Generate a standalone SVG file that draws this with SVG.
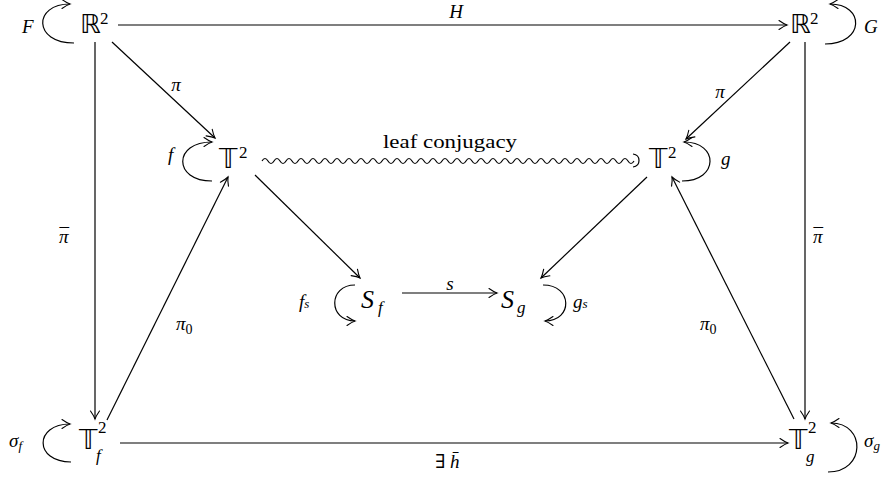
<svg xmlns="http://www.w3.org/2000/svg" width="888" height="481" viewBox="0 0 888 481">
<defs>
<marker id="ah" viewBox="-9 -6 11 12" markerWidth="11" markerHeight="12" refX="0" refY="0" orient="auto" markerUnits="userSpaceOnUse">
<path d="M-8,-4.5 Q-3,-1 0,0 Q-3,1 -8,4.5" fill="none" stroke="#000" stroke-width="1.1" stroke-linecap="round"/>
</marker>
</defs>
<style>
.e{fill:none;stroke:#000;stroke-width:1.2;marker-end:url(#ah)}
.w{fill:none;stroke:#000;stroke-width:1.2}
.bb{font-family:"DejaVu Sans","Noto Sans",sans-serif;font-size:26px;fill:#000}
.sup{font-family:"Liberation Serif","DejaVu Serif",serif;font-style:normal;font-size:17px;fill:#000}
.m{font-family:"Liberation Serif","DejaVu Serif",serif;font-style:italic;font-size:19px;fill:#000}
.big{font-family:"Liberation Serif","DejaVu Serif",serif;font-style:italic;font-size:26px;fill:#000}
.sub{font-family:"Liberation Serif","DejaVu Serif",serif;font-style:italic;font-size:17px;fill:#000}
.ss{font-family:"Liberation Serif","DejaVu Serif",serif;font-style:italic;font-size:13px;fill:#000}
.z{font-family:"Liberation Serif","DejaVu Serif",serif;font-style:normal;font-size:14px;fill:#000}
.t{font-family:"Liberation Serif","DejaVu Serif",serif;font-size:19px;fill:#000}
.up{font-family:"Liberation Serif","DejaVu Serif",serif;font-style:normal;font-size:19px;fill:#000}
</style>
<g id="R2L"><text class="bb" x="80" y="33">ℝ</text><text class="sup" x="100" y="24">2</text></g>
<g id="R2R"><text class="bb" x="790" y="33">ℝ</text><text class="sup" x="810" y="24">2</text></g>
<g id="T2L"><text class="bb" x="219" y="168">𝕋</text><text class="sup" x="239" y="158">2</text></g>
<g id="T2R"><text class="bb" x="649" y="168">𝕋</text><text class="sup" x="668" y="158">2</text></g>
<g id="Sf"><text class="big" x="361" y="308">S</text><text class="sub" x="378" y="313">f</text></g>
<g id="Sg"><text class="big" x="501" y="308">S</text><text class="sub" x="517" y="313">g</text></g>
<g id="T2f"><text class="bb" x="79" y="449">𝕋</text><text class="sup" x="98" y="433">2</text><text class="sub" x="96" y="461">f</text></g>
<g id="T2g"><text class="bb" x="789" y="449">𝕋</text><text class="sup" x="808" y="433">2</text><text class="sub" x="806" y="462">g</text></g>
<g id="connectors">
<path class="e" d="M118,25 L787,25"/>
<path class="e" d="M120,443 L788,443"/>
<path class="e" d="M95,42 L95,419"/>
<path class="e" d="M805,42 L805,419"/>
<path class="e" d="M112,42 L215,138"/>
<path class="e" d="M790,42 L686,139"/>
<path class="e" d="M255,175 L360,278"/>
<path class="e" d="M647,177 L541,278"/>
<path class="e" d="M107,420 L228,177"/>
<path class="e" d="M794,419 L672,177"/>
<path class="e" d="M402,293 L497,293"/>
<path class="w" d="M262,161 q3,-5 6,0 t6,0 t6,0 t6,0 t6,0 t6,0 t6,0 t6,0 t6,0 t6,0 t6,0 t6,0 t6,0 t6,0 t6,0 t6,0 t6,0 t6,0 t6,0 t6,0 t6,0 t6,0 t6,0 t6,0 t6,0 t6,0 t6,0 t6,0 t6,0 t6,0 t6,0 t6,0 t6,0 t6,0 t6,0 t6,0 t6,0 t6,0 t6,0 t6,0 t6,0 t6,0 t6,0 t6,0 t6,0 t6,0 t6,0 t6,0 t6,0 t6,0 t6,0 t6,0 t6,0 t6,0 t6,0 t6,0 t6,0 t6,0 t6,0 t6,0 t6,0 t6,0"/>
<path class="w" d="M633,154 C641,155 641,166 633,167"/>
<path class="e" d="M74,43 C33,43 33,4 70,4"/>
<path class="e" d="M825,44 C865,44 865,4 830,4"/>
<path class="e" d="M212,181 C173,181 173,142 212,142"/>
<path class="e" d="M682,181 C719,181 719,142 684,142"/>
<path class="e" d="M355,285 C328,285 328,321 355,321"/>
<path class="e" d="M543,285 C573,285 573,321 545,321"/>
<path class="e" d="M71,462 C34,462 34,424 70,424"/>
<path class="e" d="M828,472 C866,472 866,423 831,423"/>
</g>
<g id="labels">
<text class="m" x="22" y="33">F</text>
<text class="m" x="864" y="33">G</text>
<text class="m" x="168" y="161">f</text>
<text class="m" x="721" y="165">g</text>
<text class="m" x="299" y="308">f<tspan class="ss">s</tspan></text>
<text class="m" x="573" y="308">g<tspan class="ss">s</tspan></text>
<text class="m" x="9" y="447">σ<tspan class="ss" dy="3">f</tspan></text>
<text class="m" x="864" y="447">σ<tspan class="ss" dy="3">g</tspan></text>
<text class="m" x="456" y="18" text-anchor="middle">H</text>
<text class="m" x="176" y="91" text-anchor="middle">π</text>
<text class="m" x="720" y="98" text-anchor="middle">π</text>
<text class="m" x="59" y="243">π<tspan class="up" dx="-9" dy="-2">¯</tspan></text>
<text class="m" x="813" y="243">π<tspan class="up" dx="-9" dy="-2">¯</tspan></text>
<text class="m" x="176" y="330">π<tspan class="z" dy="4">0</tspan></text>
<text class="m" x="700" y="330">π<tspan class="z" dy="4">0</tspan></text>
<text class="m" x="450" y="290" text-anchor="middle">s</text>
<text class="up" x="435" y="468">∃ <tspan class="m">h̄</tspan></text>
<text class="t" x="383" y="148" textLength="134" lengthAdjust="spacingAndGlyphs">leaf conjugacy</text>
</g>
</svg>
